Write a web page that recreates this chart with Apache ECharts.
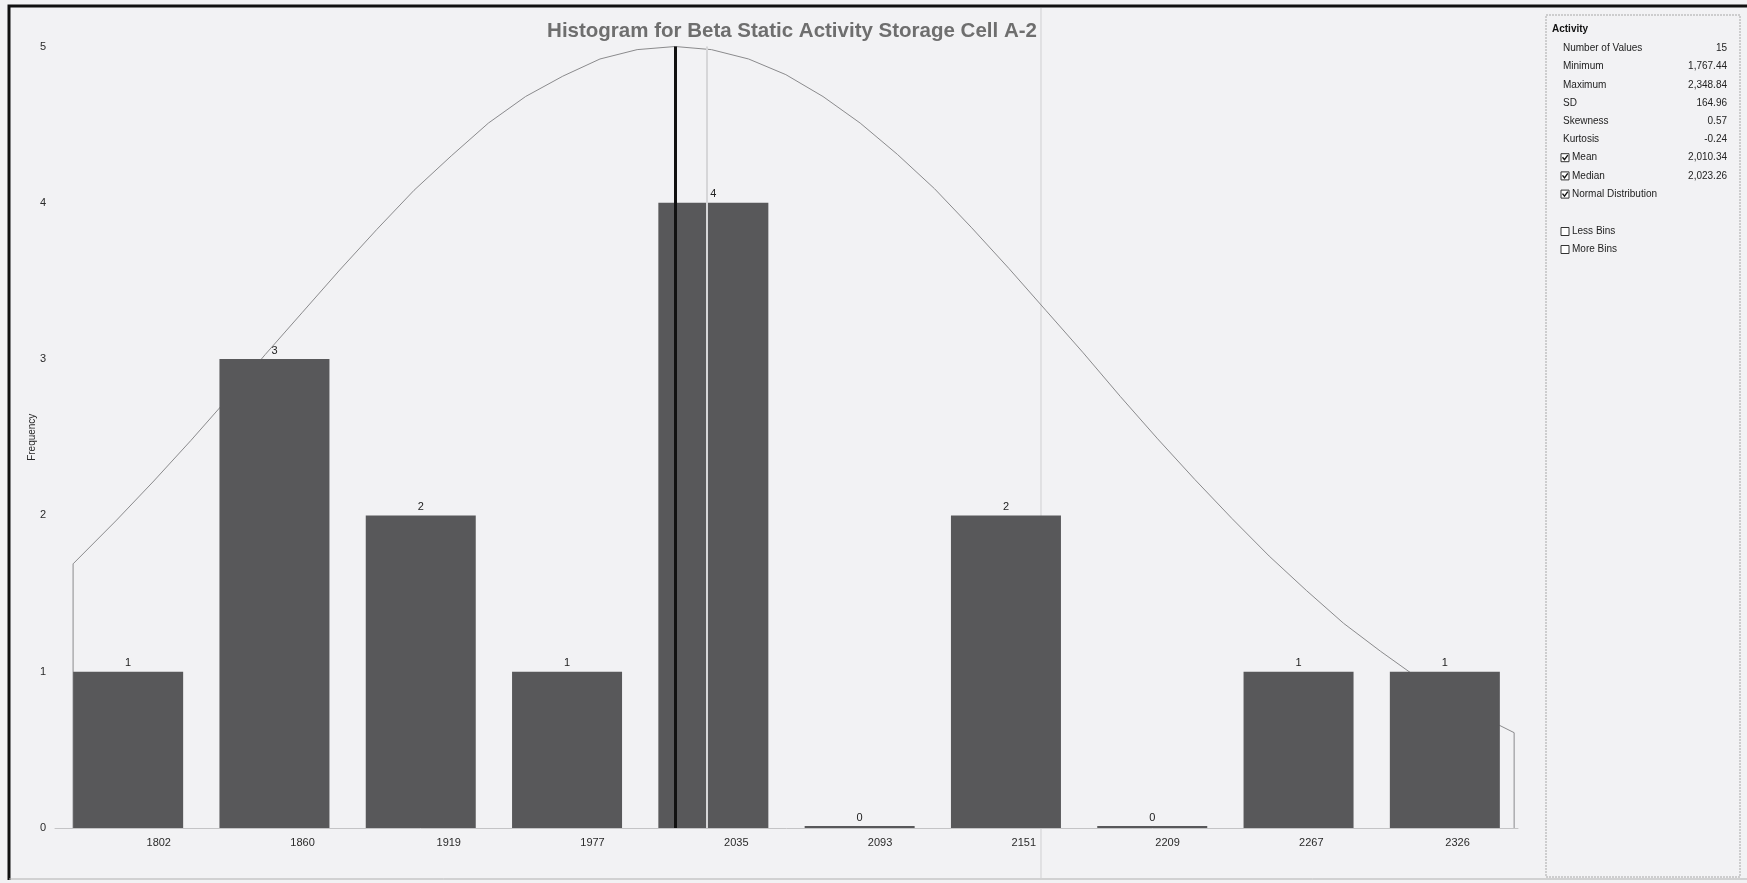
<!DOCTYPE html>
<html>
<head>
<meta charset="utf-8">
<title>Histogram for Beta Static Activity Storage Cell A-2</title>
<script src="https://cdn.jsdelivr.net/npm/echarts@6/dist/echarts.min.js"></script>
<style>
  html, body { margin: 0; padding: 0; background: #f2f2f4; }
  #chart { width: 1747px; height: 883px; }
</style>
</head>
<body>
<div id="chart"></div>
<script>
// bins of the histogram
const binLabels = ['1802', '1860', '1919', '1977', '2035', '2093', '2151', '2209', '2267', '2326'];
const binTicks = [1802, 1860, 1919, 1977, 2035, 2093, 2151, 2209, 2267, 2326];
const frequencies = [1, 3, 2, 1, 4, 0, 2, 0, 1, 1];

// normal distribution curve (activity, frequency)
const curveX = [1767.44, 1767.44, 1785, 1800, 1815, 1830, 1845, 1860, 1875, 1890, 1905, 1920,
  1935, 1950, 1965, 1980, 1995, 2010.34, 2025, 2040, 2055, 2070, 2085, 2100, 2115, 2130,
  2145, 2160, 2175, 2190, 2205, 2220, 2235, 2250, 2265, 2280, 2295, 2310, 2320, 2330,
  2340, 2348.84, 2348.84];
const curveY = [0, 1.69, 1.97, 2.22, 2.48, 2.75, 3.03, 3.30, 3.57, 3.83, 4.08, 4.30,
  4.51, 4.68, 4.81, 4.92, 4.98, 5.00, 4.98, 4.92, 4.82, 4.68, 4.51, 4.31, 4.09, 3.84,
  3.58, 3.31, 3.04, 2.76, 2.49, 2.23, 1.98, 1.74, 1.52, 1.31, 1.13, 0.96, 0.86, 0.77,
  0.68, 0.61, 0];

const meanValue = 2010.34;
const medianValue = 2023.26;

// stats panel
const statNames = ['Number of Values', 'Minimum', 'Maximum', 'SD', 'Skewness', 'Kurtosis', 'Mean', 'Median', 'Normal Distribution'];
const statValues = ['15', '1,767.44', '2,348.84', '164.96', '0.57', '-0.24', '2,010.34', '2,023.26', ''];
const statChecked = [null, null, null, null, null, null, true, true, true];
const binOptions = ['Less Bins', 'More Bins'];

const chart = echarts.init(document.getElementById('chart'));

const panelFont = '10px "Liberation Sans", Arial, sans-serif';

function checkbox(x, y, checked) {
  const els = [{
    type: 'rect',
    shape: { x: x, y: y - 4, width: 8, height: 8 },
    style: { fill: '#ffffff', stroke: '#333333', lineWidth: 1 }
  }];
  if (checked) {
    els.push({
      type: 'polyline',
      shape: { points: [[x + 1.5, y - 0.5], [x + 3.5, y + 2], [x + 6.8, y - 2.5]] },
      style: { stroke: '#111111', lineWidth: 1.4, fill: null }
    });
  }
  return els;
}

let panel = [
  {
    type: 'rect',
    shape: { x: 1546, y: 15, width: 194, height: 862 },
    style: { fill: 'transparent', stroke: '#a8a8a8', lineWidth: 1, lineDash: [2, 1] }
  },
  {
    type: 'text',
    style: { text: 'Activity', x: 1552, y: 29, font: 'bold ' + panelFont, fill: '#111', verticalAlign: 'middle' }
  }
];

statNames.forEach(function (name, i) {
  const y = 48.5 + i * 18.2;
  let tx = 1563;
  if (statChecked[i] !== null) {
    panel = panel.concat(checkbox(1561, y, statChecked[i]));
    tx = 1572;
  }
  panel.push({
    type: 'text',
    style: { text: name, x: tx, y: y, font: panelFont, fill: '#222', verticalAlign: 'middle' }
  });
  if (statValues[i]) {
    panel.push({
      type: 'text',
      style: { text: statValues[i], x: 1727, y: y, font: panelFont, fill: '#222', align: 'right', verticalAlign: 'middle' }
    });
  }
});

binOptions.forEach(function (name, i) {
  const y = 231.5 + i * 18;
  panel = panel.concat(checkbox(1561, y, false));
  panel.push({
    type: 'text',
    style: { text: name, x: 1572, y: y, font: panelFont, fill: '#222', verticalAlign: 'middle' }
  });
});

// window frame
const frame = [
  { type: 'polyline', shape: { points: [[9, 880], [9, 6], [1747, 6]] }, style: { stroke: '#111', lineWidth: 3, fill: null } },
  { type: 'line', shape: { x1: 9, y1: 879, x2: 1747, y2: 879 }, style: { stroke: '#b0b0b0', lineWidth: 1 } },
  { type: 'line', shape: { x1: 1041, y1: 8, x2: 1041, y2: 878 }, style: { stroke: '#cfcfd1', lineWidth: 1 }, z: 0 }
];

const option = {
  backgroundColor: '#f2f2f4',
  animation: false,
  title: {
    text: 'Histogram for Beta Static Activity Storage Cell A-2',
    left: 787,
    top: 16,
    textAlign: 'center',
    textStyle: {
      fontFamily: '"Liberation Sans", Arial, sans-serif',
      fontSize: 20.5,
      fontWeight: 'bold',
      color: '#6e6e6e'
    }
  },
  grid: {
    left: 55,
    top: 46.5,
    width: 1463,
    height: 781.5,
    outerBoundsMode: 'none'
  },
  xAxis: [
    {
      type: 'category',
      data: binLabels,
      position: 'bottom',
      axisLine: { show: true, lineStyle: { color: '#c4c4c6', width: 1 } },
      axisTick: { show: false },
      axisLabel: { show: false },
      splitLine: { show: false }
    },
    {
      type: 'value',
      min: 1760.14,
      max: 2350.4,
      position: 'bottom',
      axisLine: { show: false },
      axisTick: { show: false },
      splitLine: { show: false },
      axisLabel: {
        customValues: binTicks,
        formatter: function (v) { return String(v); },
        margin: 9,
        fontSize: 11,
        fontFamily: '"Liberation Sans", Arial, sans-serif',
        color: '#2a2a2a'
      }
    }
  ],
  yAxis: {
    type: 'value',
    min: 0,
    max: 5,
    interval: 1,
    name: 'Frequency',
    nameLocation: 'middle',
    nameRotate: 90,
    nameGap: 18,
    nameMoveOverlap: false,
    nameTextStyle: { fontSize: 10, fontFamily: '"Liberation Sans", Arial, sans-serif', color: '#2a2a2a' },
    axisLine: { show: false },
    axisTick: { show: false },
    splitLine: { show: false },
    axisLabel: {
      margin: 9,
      fontSize: 11,
      fontFamily: '"Liberation Sans", Arial, sans-serif',
      color: '#2a2a2a'
    }
  },
  series: [
    {
      name: 'Normal Distribution',
      type: 'line',
      xAxisIndex: 1,
      data: curveX.map(function (x, i) { return [x, curveY[i]]; }),
      symbol: 'none',
      lineStyle: { color: '#8a8a8c', width: 1 },
      z: 1,
      silent: true
    },
    {
      name: 'Frequency',
      type: 'bar',
      xAxisIndex: 0,
      data: frequencies,
      barWidth: 110,
      barMinHeight: 2,
      itemStyle: { color: '#58585a' },
      label: {
        show: true,
        position: 'top',
        distance: 3,
        fontSize: 11,
        fontFamily: '"Liberation Sans", Arial, sans-serif',
        color: '#222'
      },
      z: 2
    },
    {
      name: 'Mean / Median',
      type: 'line',
      xAxisIndex: 1,
      data: [],
      z: 3,
      markLine: {
        silent: true,
        symbol: 'none',
        label: { show: false },
        data: [
          { xAxis: meanValue, lineStyle: { color: '#111111', width: 3, type: 'solid' } },
          { xAxis: medianValue, lineStyle: { color: '#d6d6d8', width: 2, type: 'solid' } }
        ]
      }
    }
  ],
  graphic: frame.concat(panel)
};

chart.setOption(option);
</script>
</body>
</html>
